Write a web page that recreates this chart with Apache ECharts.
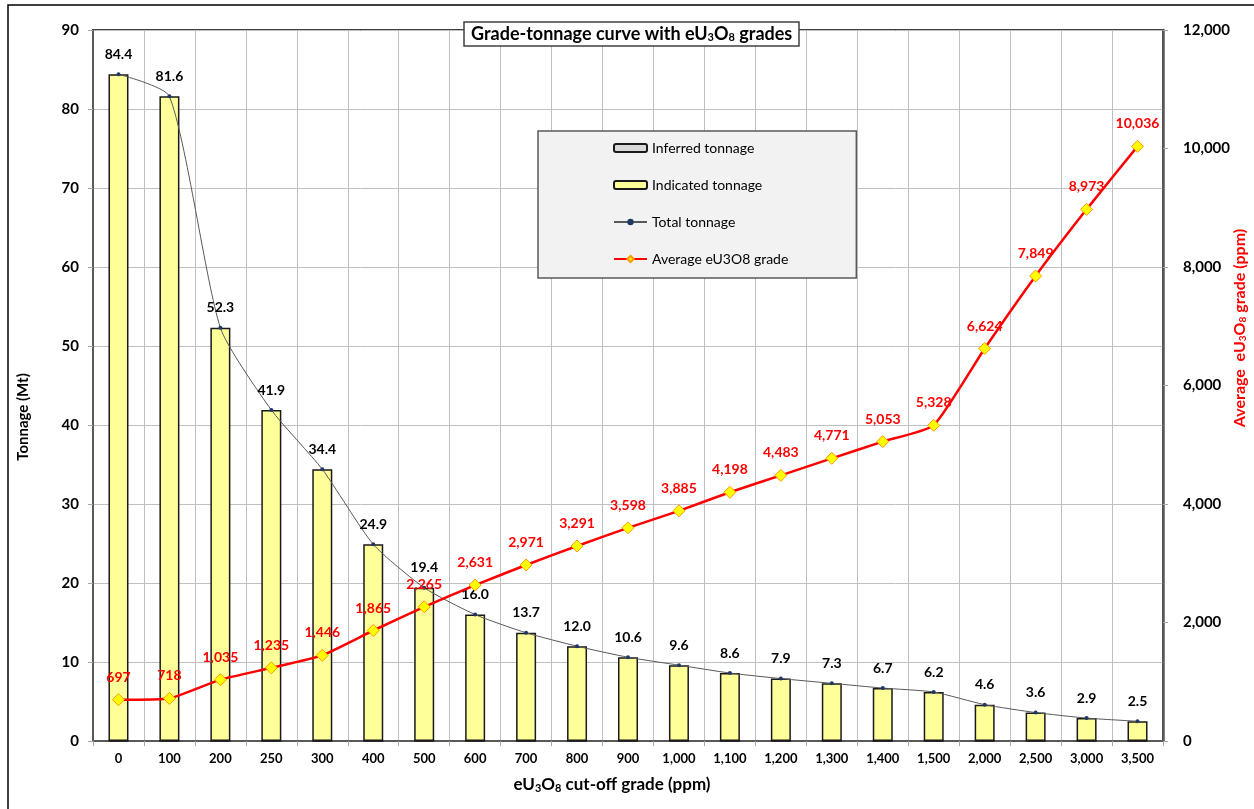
<!DOCTYPE html>
<html>
<head>
<meta charset="utf-8">
<title>Grade-tonnage curve</title>
<script src="https://cdn.jsdelivr.net/npm/echarts@6/dist/echarts.min.js"></script>
<style>
  html, body { margin: 0; padding: 0; background: #fff; }
  #chart { width: 1254px; height: 809px; }
</style>
</head>
<body>
<div id="chart"></div>
<script>
// Cut-off grades (ppm eU3O8)
const cutoffLabels = ['0', '100', '200', '250', '300', '400', '500', '600', '700', '800', '900',
  '1,000', '1,100', '1,200', '1,300', '1,400', '1,500', '2,000', '2,500', '3,000', '3,500'];

// Tonnage above cut-off (Mt)
const inferredTonnage = [0, 0, 0, 0, 0, 0, 0, 0, 0, 0, 0, 0, 0, 0, 0, 0, 0, 0, 0, 0, 0];
const indicatedTonnage = [84.4, 81.6, 52.3, 41.9, 34.4, 24.9, 19.4, 16.0, 13.7, 12.0, 10.6,
  9.6, 8.6, 7.9, 7.3, 6.7, 6.2, 4.6, 3.6, 2.9, 2.5];
const totalTonnage = [84.4, 81.6, 52.3, 41.9, 34.4, 24.9, 19.4, 16.0, 13.7, 12.0, 10.6,
  9.6, 8.6, 7.9, 7.3, 6.7, 6.2, 4.6, 3.6, 2.9, 2.5];

// Average grade above cut-off (ppm eU3O8)
const avgGrade = [697, 718, 1035, 1235, 1446, 1865, 2265, 2631, 2971, 3291, 3598,
  3885, 4198, 4483, 4771, 5053, 5328, 6624, 7849, 8973, 10036];

const FONT = 'Lato, "Open Sans", sans-serif';
const fmtThousands = v => Number(v).toLocaleString('en-US');

// Rich-text styles: normal run (n) and subscript run (s)
const subRich = (color, size) => ({
  n: { fontFamily: FONT, fontWeight: 'bold', fontSize: size, color: color, fill: color, lineHeight: size + 6, verticalAlign: 'bottom' },
  s: { fontFamily: FONT, fontWeight: 'bold', fontSize: Math.round(size * 0.62), color: color, fill: color, lineHeight: Math.round(size * 0.45), verticalAlign: 'bottom' }
});

const chart = echarts.init(document.getElementById('chart'), null, { renderer: 'canvas' });

chart.setOption({
  backgroundColor: '#ffffff',
  animation: false,
  title: {
    text: '{n|Grade-tonnage curve with eU}{s|3}{n|O}{s|8}{n| grades}',
    left: 464,
    top: 16,
    padding: [3, 7, 3, 7],
    backgroundColor: '#ffffff',
    borderColor: '#404040',
    borderWidth: 1.5,
    textStyle: { rich: subRich('#000', 18) }
  },
  legend: {
    orient: 'vertical',
    left: 538,
    top: 131,
    padding: [9, 68, 11, 75],
    backgroundColor: '#F2F2F2',
    borderColor: '#595959',
    borderWidth: 1.5,
    itemWidth: 33,
    itemHeight: 8,
    itemGap: 21,
    textStyle: { fontFamily: FONT, fontSize: 14, color: '#000', lineHeight: 16 },
    data: ['Inferred tonnage', 'Indicated tonnage', 'Total tonnage', 'Average eU3O8 grade']
  },
  grid: {
    left: 93, right: 91, top: 30, bottom: 68,
    show: true,
    borderColor: '#404040',
    borderWidth: 2
  },
  xAxis: {
    type: 'category',
    data: cutoffLabels,
    boundaryGap: true,
    axisLine: { lineStyle: { color: '#595959', width: 2 } },
    axisTick: { show: true, length: 5, lineStyle: { color: '#A6A6A6' } },
    axisLabel: { fontFamily: FONT, fontWeight: 'bold', fontSize: 13, color: '#000', margin: 11 },
    splitLine: { show: true, lineStyle: { color: '#BFBFBF', width: 1 } }
  },
  yAxis: [
    {
      type: 'value',
      min: 0, max: 90, interval: 10,
      axisLine: { show: true, lineStyle: { color: '#595959', width: 2 } },
      axisTick: { show: true, length: 5, lineStyle: { color: '#A6A6A6' } },
      axisLabel: { fontFamily: FONT, fontWeight: 'bold', fontSize: 15, color: '#000', margin: 14 },
      splitLine: { show: true, lineStyle: { color: '#BFBFBF', width: 1 } }
    },
    {
      type: 'value',
      min: 0, max: 12000, interval: 2000,
      position: 'right',
      axisLine: { show: true, lineStyle: { color: '#595959', width: 2.5 } },
      axisTick: { show: true, length: 5, lineStyle: { color: '#A6A6A6' } },
      axisLabel: { fontFamily: FONT, fontWeight: 'bold', fontSize: 15, color: '#000', margin: 20, formatter: fmtThousands },
      splitLine: { show: false }
    }
  ],
  series: [
    {
      name: 'Inferred tonnage',
      type: 'bar',
      stack: 'tonnage',
      barWidth: 20,
      data: inferredTonnage,
      itemStyle: { color: '#D9D9D9', borderColor: '#1A1A1A', borderWidth: 1.5 }
    },
    {
      name: 'Indicated tonnage',
      type: 'bar',
      stack: 'tonnage',
      barWidth: 20,
      data: indicatedTonnage,
      itemStyle: { color: '#FFFF99', borderColor: '#1A1A1A', borderWidth: 1.5 }
    },
    {
      name: 'Total tonnage',
      type: 'line',
      data: totalTonnage,
      smooth: 0.2,
      symbol: 'circle',
      symbolSize: 4,
      z: 3,
      lineStyle: { color: '#595959', width: 1 },
      itemStyle: { color: '#1F3864' },
      label: {
        show: true,
        position: 'top',
        distance: 11,
        fontFamily: FONT, fontWeight: 'bold', fontSize: 14, color: '#000',
        formatter: p => p.value.toFixed(1)
      }
    },
    {
      name: 'Average eU3O8 grade',
      type: 'line',
      yAxisIndex: 1,
      data: avgGrade,
      smooth: 0.15,
      symbol: 'diamond',
      symbolSize: 12,
      z: 4,
      lineStyle: { color: '#FF0000', width: 2.5 },
      itemStyle: { color: '#FFFF00', borderColor: '#FF9900', borderWidth: 1 },
      label: {
        show: true,
        position: 'top',
        distance: 9,
        fontFamily: FONT, fontWeight: 'bold', fontSize: 14, color: '#FF0000',
        formatter: p => fmtThousands(p.value)
      }
    }
  ],
  graphic: [
    {
      type: 'rect',
      shape: { x: 8, y: 5, width: 1260, height: 820 },
      style: { fill: null, stroke: '#000', lineWidth: 1.5 },
      silent: true,
      z: 100
    },
    {
      type: 'text',
      x: 23, y: 417,
      rotation: Math.PI / 2,
      style: {
        text: 'Tonnage (Mt)',
        fontFamily: FONT, fontWeight: 'bold', fontSize: 15, fill: '#000',
        align: 'center', verticalAlign: 'middle'
      }
    },
    {
      type: 'text',
      x: 1237, y: 328,
      rotation: Math.PI / 2,
      style: {
        text: '{n|Average  eU}{s|3}{n|O}{s|8}{n| grade (ppm)}',
        rich: subRich('#FF0000', 16),
        fill: '#FF0000',
        align: 'center', verticalAlign: 'middle'
      }
    },
    {
      type: 'text',
      x: 612, y: 782,
      style: {
        text: '{n|eU}{s|3}{n|O}{s|8}{n| cut-off grade (ppm)}',
        rich: subRich('#000', 17),
        fill: '#000',
        align: 'center', verticalAlign: 'middle'
      }
    }
  ]
});
</script>
</body>
</html>
